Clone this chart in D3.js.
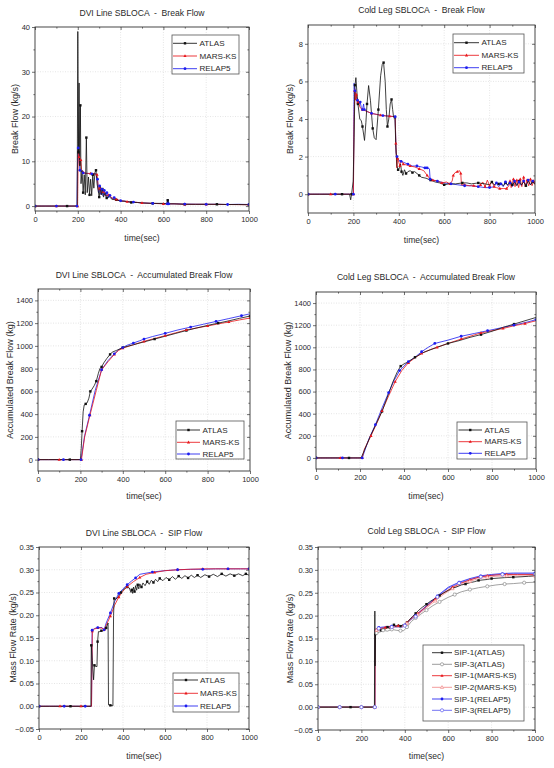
<!DOCTYPE html>
<html><head><meta charset="utf-8">
<script src="https://cdn.jsdelivr.net/npm/d3@7"></script>
<style>body{margin:0;background:#fff}text{font-family:"Liberation Sans",Arial,sans-serif;fill:#2a2a2a;font-weight:400;white-space:pre}</style>
</head><body>
<script>
// ---------- DATA ----------
const timeTicks = [0, 200, 400, 600, 800, 1000];
const timeMinor = [100, 300, 500, 700, 900];

// Panel 1: DVI Line SBLOCA - Break Flow (kg/s)
const dviBreakATLAS = [[0,0],[50,0],[100,0],[150,0],[197,0],[200,39],[203,12],[206,27.5],[209,9],[212,22.5],[215,5],[220,8],[225,3],[230,7],[235,2.5],[240,15.3],[244,3],[250,6.5],[255,2.5],[260,6],[265,2.3],[270,7],[275,4],[280,7.5],[285,8],[290,5],[295,3.5],[300,2],[305,4.5],[310,2.5],[315,3.8],[320,2],[328,3],[335,1.8],[345,2.2],[360,1.5],[380,1.4],[400,1.1],[420,1.1],[450,0.8],[480,0.8],[500,0.7],[550,0.6],[600,0.6],[615,0.5],[620,1.3],[625,0.5],[650,0.5],[700,0.4],[750,0.4],[800,0.4],[850,0.4],[900,0.35],[950,0.35],[1000,0.3]];
const dviBreakMARS = [[0,0],[50,0],[100,0],[150,0],[199,0],[202,12.5],[206,11],[210,9],[214,10.3],[218,8],[225,7.5],[240,7.3],[260,7.3],[280,7.2],[290,7],[297,3.5],[303,4],[310,2.8],[320,3.2],[330,2.3],[345,2.5],[360,1.8],[380,1.5],[400,1.2],[430,1],[460,0.9],[500,0.7],[550,0.6],[600,0.5],[650,0.5],[700,0.4],[750,0.4],[800,0.4],[900,0.35],[1000,0.3]];
const dviBreakRELAP = [[0,0],[60,0],[100,0],[150,0],[196,0],[198,8],[202,13],[206,10],[210,8],[215,7.8],[225,7.4],[245,7.3],[265,7.2],[285,7.2],[292,6],[297,3],[302,4.5],[306,2.6],[312,3.8],[318,2.3],[324,3.5],[330,2.2],[336,3],[342,1.8],[350,2.4],[360,1.6],[370,1.9],[385,1.3],[400,1.2],[430,1],[460,0.9],[500,0.7],[550,0.6],[600,0.55],[618,0.5],[621,1.5],[625,0.5],[660,0.5],[700,0.45],[750,0.4],[800,0.4],[850,0.4],[900,0.35],[950,0.4],[1000,0.35]];

// Panel 2: Cold Leg SBLOCA - Break Flow (kg/s)
const clBreakATLAS = [[0,0],[50,0],[100,0],[150,0],[183,0],[188,-0.3],[192,0],[199,0.7],[203,3],[207,5.8],[211,6.2],[215,5.5],[220,4.8],[228,4.0],[235,3.9],[240,3.6],[249,2.86],[255,3.8],[260,4.8],[267,5.78],[275,5.0],[285,3.5],[292,3.0],[300,2.9],[310,4.5],[320,6.3],[327,6.9],[333,7.0],[340,6],[345,4.5],[350,3.6],[356,4.0],[362,4.8],[368,5.04],[373,4.5],[377,4.1],[383,4.1],[387,2.5],[392,1.5],[397,1.3],[403,1.4],[408,1.6],[412,1.2],[418,1.0],[425,1.3],[432,1.1],[440,1.2],[450,1.25],[460,1.15],[470,1.2],[480,1.1],[490,1.0],[500,0.9],[520,0.85],[540,0.75],[560,0.65],[580,0.6],[600,0.5],[620,0.55],[650,0.55],[680,0.6],[700,0.6],[720,0.55],[750,0.6],[780,0.55],[800,0.5],[810,0.65],[820,0.5],[830,0.6],[840,0.55],[850,0.6],[860,0.45],[870,0.6],[880,0.5],[890,0.7],[900,0.5],[910,0.65],[920,0.45],[930,0.7],[940,0.5],[950,0.65],[960,0.45],[970,0.7],[980,0.5],[990,0.65],[1000,0.55]];
const clBreakMARS = [[0,0],[60,0],[100,0],[170,0],[200,0],[203,4],[206,5.5],[210,5.0],[213,5.3],[217,4.8],[222,4.9],[230,4.6],[240,4.5],[260,4.4],[280,4.3],[300,4.25],[320,4.2],[340,4.17],[360,4.15],[384,4.12],[387,2.7],[391,1.4],[395,1.9],[400,1.7],[405,1.5],[410,1.8],[420,1.6],[435,1.55],[450,1.5],[470,1.45],[490,1.35],[510,1.25],[525,1.0],[535,0.85],[550,0.75],[570,0.7],[590,0.6],[610,0.65],[625,0.55],[635,0.7],[640,1.0],[648,1.15],[658,1.2],[668,1.25],[673,1.1],[676,0.5],[690,0.5],[710,0.45],[730,0.45],[750,0.4],[760,0.5],[770,0.65],[780,0.4],[790,0.75],[800,0.45],[810,0.7],[820,0.4],[830,0.35],[845,0.3],[860,0.3],[875,0.3],[885,0.45],[890,0.7],[895,0.35],[905,0.8],[912,0.4],[920,0.75],[928,0.35],[935,0.8],[942,0.4],[950,0.9],[957,0.4],[965,0.75],[972,0.45],[980,0.8],[987,0.45],[994,0.7],[1000,0.5]];
const clBreakRELAP = [[0,0],[55,0],[120,0],[190,0],[200,0],[203,5.9],[207,5.5],[212,5.2],[218,5.0],[225,4.8],[230,4.9],[235,4.6],[240,4.5],[245,4.8],[248,4.5],[260,4.4],[280,4.3],[300,4.25],[330,4.18],[360,4.15],[384,4.12],[388,2.2],[392,2.0],[400,1.8],[410,1.75],[420,1.7],[440,1.6],[460,1.5],[480,1.5],[500,1.45],[515,1.4],[520,1.45],[525,1.4],[535,1.35],[538,0.8],[550,0.75],[570,0.7],[600,0.6],[630,0.55],[660,0.5],[690,0.45],[720,0.45],[750,0.4],[780,0.35],[800,0.35],[820,0.4],[830,0.6],[840,0.4],[850,0.55],[860,0.4],[870,0.65],[880,0.45],[890,0.6],[900,0.4],[910,0.7],[920,0.5],[930,0.65],[940,0.45],[950,0.7],[960,0.5],[970,0.75],[980,0.5],[990,0.7],[1000,0.6]];

// Panel 3: DVI Line SBLOCA - Accumulated Break Flow (kg)
const dviAccATLAS = [[0,0],[50,0],[100,0],[150,0],[200,0],[204,100],[208,250],[213,420],[218,480],[225,490],[232,500],[240,540],[247,600],[255,620],[265,650],[275,690],[285,760],[292,800],[300,815],[310,850],[325,890],[340,925],[350,945],[370,960],[400,985],[450,1010],[500,1035],[550,1060],[600,1085],[650,1110],[700,1135],[750,1158],[800,1180],[850,1200],[900,1220],[950,1242],[1000,1262]];
const dviAccMARS = [[0,0],[50,0],[100,0],[165,0],[205,0],[220,200],[245,390],[275,610],[300,790],[330,860],[360,925],[380,960],[400,980],[450,1010],[500,1040],[550,1065],[600,1090],[650,1115],[700,1140],[750,1158],[800,1175],[850,1193],[900,1210],[950,1228],[1000,1245]];
const dviAccRELAP = [[0,0],[60,0],[120,0],[180,0],[203,0],[220,210],[243,390],[270,610],[300,790],[330,870],[360,930],[380,965],[400,985],[420,1005],[450,1025],[480,1045],[500,1060],[540,1082],[600,1110],[660,1140],[720,1165],[780,1190],[840,1215],[900,1240],[960,1265],[1000,1282]];

// Panel 4: Cold Leg SBLOCA - Accumulated Break Flow (kg)
const clAccATLAS = [[0,0],[50,0],[100,0],[150,0],[205,0],[250,210],[300,420],[350,690],[370,780],[385,830],[400,850],[420,870],[450,910],[490,955],[550,1000],[600,1035],[650,1060],[700,1090],[750,1115],[800,1145],[850,1180],[900,1210],[950,1240],[1000,1270]];
const clAccMARS = [[0,0],[55,0],[110,0],[170,0],[210,0],[220,80],[250,200],[280,330],[300,425],[330,560],[360,690],[390,790],[420,860],[450,905],[480,945],[520,980],[550,1000],[600,1035],[660,1075],[700,1100],[750,1130],[800,1150],[850,1170],[900,1195],[950,1215],[1000,1240]];
const clAccRELAP = [[0,0],[60,0],[120,0],[190,0],[210,0],[240,170],[270,300],[300,450],[330,590],[355,700],[380,790],[400,830],[420,870],[450,910],[480,960],[510,1000],[540,1035],[600,1065],[660,1100],[720,1125],[780,1150],[850,1180],[900,1200],[960,1228],[1000,1250]];

// Panel 5: DVI Line SBLOCA - SIP Flow (kg/s)
const dviSipATLAS = [[0,0],[50,0],[100,0],[150,0],[200,0],[247,0],[249,0.134],[254,0.1],[260,0.058],[264,0.09],[270,0.088],[276,0.087],[279,0.142],[283,0.164],[290,0.164],[297,0.166],[305,0.166],[313,0.167],[320,0.172],[329,0.183],[331,0.003],[340,0.002],[352,0.001],[355,0.2],[358,0.237],[365,0.235],[376,0.24],[390,0.25],[400,0.255],[408,0.259],[420,0.262],[430,0.26],[438,0.25],[442,0.256],[446,0.248],[450,0.262],[455,0.252],[460,0.265],[465,0.255],[470,0.267],[475,0.258],[480,0.269],[488,0.262],[495,0.271],[505,0.265],[515,0.274],[525,0.268],[535,0.277],[545,0.272],[555,0.279],[565,0.274],[575,0.281],[590,0.276],[605,0.283],[620,0.278],[635,0.285],[650,0.279],[665,0.286],[680,0.281],[695,0.287],[710,0.282],[725,0.288],[740,0.283],[755,0.288],[770,0.283],[790,0.289],[810,0.285],[830,0.290],[850,0.285],[870,0.291],[890,0.286],[910,0.291],[930,0.287],[950,0.291],[970,0.287],[985,0.291],[1000,0.288]];
const dviSipMARS = [[0,0],[50,0],[100,0],[150,0],[200,0],[250,0],[254,0.165],[265,0.17],[280,0.172],[300,0.172],[310,0.168],[320,0.178],[340,0.198],[360,0.222],[380,0.24],[400,0.253],[420,0.263],[450,0.274],[480,0.283],[510,0.29],[550,0.294],[600,0.298],[660,0.3],[720,0.301],[780,0.302],[840,0.302],[900,0.302],[960,0.302],[1000,0.302]];
const dviSipRELAP = [[0,0],[60,0],[120,0],[180,0],[220,0],[250,0],[253,0.167],[265,0.171],[280,0.173],[300,0.173],[310,0.168],[320,0.183],[340,0.205],[360,0.23],[380,0.248],[400,0.258],[420,0.267],[440,0.275],[460,0.282],[480,0.29],[540,0.295],[600,0.298],[660,0.3],[720,0.301],[780,0.301],[840,0.302],[900,0.302],[960,0.302],[1000,0.302]];

// Panel 6: Cold Leg SBLOCA - SIP Flow (kg/s)
const clSip1ATLAS = [[0,0],[50,0],[100,0],[150,0],[200,0],[250,0],[260,0],[262,0.21],[263,0.09],[265,0.16],[270,0.165],[280,0.17],[290,0.168],[300,0.172],[310,0.17],[320,0.175],[330,0.172],[340,0.178],[350,0.18],[360,0.176],[370,0.181],[380,0.177],[390,0.18],[400,0.178],[410,0.185],[420,0.19],[435,0.198],[450,0.205],[465,0.212],[480,0.218],[500,0.225],[520,0.232],[540,0.237],[560,0.244],[580,0.25],[600,0.255],[620,0.26],[640,0.263],[660,0.267],[680,0.269],[700,0.272],[720,0.274],[740,0.277],[760,0.278],[780,0.279],[800,0.281],[830,0.282],[860,0.283],[900,0.284],[940,0.285],[970,0.286],[1000,0.287]];
const clSip3ATLAS = [[0,0],[50,0],[100,0],[150,0],[200,0],[250,0],[261,0],[263,0.16],[270,0.162],[290,0.165],[300,0.168],[320,0.166],[340,0.17],[360,0.168],[380,0.167],[395,0.167],[410,0.175],[430,0.187],[450,0.195],[470,0.202],[500,0.212],[530,0.222],[560,0.23],[600,0.24],[630,0.246],[660,0.252],[700,0.257],[740,0.261],[780,0.264],[820,0.267],[860,0.269],[900,0.27],[950,0.272],[1000,0.273]];
const clSip1MARS = [[0,0],[50,0],[100,0],[150,0],[200,0],[250,0],[262,0],[264,0.165],[270,0.17],[290,0.172],[310,0.174],[340,0.177],[370,0.178],[395,0.178],[410,0.185],[430,0.195],[460,0.205],[500,0.22],[540,0.236],[580,0.25],[620,0.262],[660,0.271],[700,0.278],[740,0.284],[780,0.287],[820,0.289],[870,0.29],[920,0.29],[1000,0.29]];
const clSip2MARS = [[0,0],[50,0],[100,0],[150,0],[200,0],[250,0],[262,0],[264,0.163],[270,0.168],[300,0.17],[340,0.175],[395,0.176],[410,0.183],[430,0.192],[460,0.202],[500,0.217],[540,0.232],[580,0.247],[620,0.259],[660,0.268],[700,0.275],[740,0.281],[780,0.284],[820,0.286],[870,0.287],[920,0.287],[1000,0.287]];
const clSip1RELAP = [[0,0],[50,0],[100,0],[150,0],[200,0],[250,0],[262,0],[264,0.17],[280,0.174],[300,0.175],[340,0.177],[390,0.177],[400,0.18],[420,0.19],[450,0.2],[500,0.222],[550,0.243],[600,0.262],[650,0.273],[700,0.281],[750,0.287],[800,0.29],[850,0.292],[900,0.293],[1000,0.293]];
const clSip3RELAP = [[0,0],[50,0],[100,0],[150,0],[200,0],[250,0],[262,0],[264,0.168],[280,0.172],[300,0.173],[340,0.175],[390,0.175],[400,0.178],[420,0.188],[450,0.198],[500,0.22],[550,0.241],[600,0.26],[650,0.271],[700,0.279],[750,0.285],[800,0.288],[850,0.29],[900,0.291],[1000,0.291]];

const breakTicksDVI = [0, 10, 20, 30, 40];
const breakTicksCL = [0, 2, 4, 6, 8];
const accTicks = [0, 200, 400, 600, 800, 1000, 1200, 1400];
const sipTicks = [-0.05, 0, 0.05, 0.1, 0.15, 0.2, 0.25, 0.3, 0.35];

// ---------- STYLE / LAYOUT ----------
const BLACK = "#111", RED = "#e8161b", BLUE = "#1c1cf0", GREY = "#8a8a8a", PINK = "#f08a8a", LAV = "#5a5af0";
const FONT = "Liberation Sans, Arial, sans-serif";
const std = (a, m, r) => [
  {name: "ATLAS", data: a, color: BLACK, marker: "square", every: 3},
  {name: "MARS-KS", data: m, color: RED, marker: "tri", every: 2},
  {name: "RELAP5", data: r, color: BLUE, marker: "dot", every: 2}
];
const panels = [
  {title: "DVI Line SBLOCA  -  Break Flow", ylabel: "Break Flow (kg/s)",
   frame: [35, 27, 249, 211], yDomain: [-1.1, 40], yTicks: breakTicksDVI, yMinorStep: 5, yFmt: d3.format("d"),
   titleY: 15.5, tickY: 224, xlabY: 240.5, ylabX: 15,
   series: std(dviBreakATLAS, dviBreakMARS, dviBreakRELAP),
   legend: {box: [172, 35, 67, 39], rows: [43.3, 56, 68.7], l0: 173, l1: 197, tx: 199.5}},
  {title: "Cold Leg SBLOCA  -  Break Flow", ylabel: "Break Flow (kg/s)",
   frame: [308, 25, 535, 213], yDomain: [-1, 9], yTicks: breakTicksCL, yMinorStep: 1, yFmt: d3.format("d"),
   titleY: 12.5, tickY: 225.5, xlabY: 242.5, ylabX: 289.5,
   series: std(clBreakATLAS, clBreakMARS, clBreakRELAP),
   legend: {box: [453, 34, 71, 39], rows: [42.7, 55.3, 67.7], l0: 454, l1: 479, tx: 481.5}},
  {title: "DVI Line SBLOCA  -  Accumulated Break Flow", ylabel: "Accumulated Break Flow (kg)",
   frame: [38, 289, 250, 471], yDomain: [-100, 1500], yTicks: accTicks, yMinorStep: 100, yFmt: d3.format("d"),
   titleY: 278, tickY: 483, xlabY: 499, ylabX: 10,
   series: std(dviAccATLAS, dviAccMARS, dviAccRELAP),
   legend: {box: [176, 421, 68, 38], rows: [430, 442.3, 454], l0: 177, l1: 200, tx: 202.5}},
  {title: "Cold Leg SBLOCA  -  Accumulated Break Flow", ylabel: "Accumulated Break Flow (kg)",
   frame: [316, 292, 536, 469], yDomain: [-100, 1500], yTicks: accTicks, yMinorStep: 100, yFmt: d3.format("d"),
   titleY: 280, tickY: 482, xlabY: 498.5, ylabX: 288,
   series: std(clAccATLAS, clAccMARS, clAccRELAP),
   legend: {box: [457, 422, 70, 37], rows: [430, 441.7, 453.3], l0: 458.5, l1: 482, tx: 484.5}},
  {title: "DVI Line SBLOCA  -  SIP Flow", ylabel: "Mass Flow Rate (kg/s)",
   frame: [39, 547, 249, 729], yDomain: [-0.05, 0.35], yTicks: sipTicks, yMinorStep: 0.025, yFmt: d3.format(".2f"),
   titleY: 535.5, tickY: 743, xlabY: 758.5, ylabX: 12.5,
   series: std(dviSipATLAS, dviSipMARS, dviSipRELAP),
   legend: {box: [173, 673, 66, 39], rows: [680, 693.3, 706], l0: 174, l1: 198, tx: 200}},
  {title: "Cold Leg SBLOCA  -  SIP Flow", ylabel: "Mass Flow Rate (kg/s)",
   frame: [318, 547, 535, 730], yDomain: [-0.05, 0.35], yTicks: sipTicks, yMinorStep: 0.025, yFmt: d3.format(".2f"),
   titleY: 534, tickY: 743, xlabY: 758.5, ylabX: 289.5,
   series: [
     {name: "SIP-1(ATLAS)", data: clSip1ATLAS, color: BLACK, marker: "square", every: 3},
     {name: "SIP-3(ATLAS)", data: clSip3ATLAS, color: GREY, marker: "ocircle", every: 2},
     {name: "SIP-1(MARS-KS)", data: clSip1MARS, color: RED, marker: "tri", every: 2},
     {name: "SIP-2(MARS-KS)", data: clSip2MARS, color: PINK, marker: "otri", every: 2},
     {name: "SIP-1(RELAP5)", data: clSip1RELAP, color: BLUE, marker: "dot", every: 2},
     {name: "SIP-3(RELAP5)", data: clSip3RELAP, color: LAV, marker: "ocircle", every: 2}
   ],
   legend: {box: [423, 645, 101, 76], rows: [652.7, 664.3, 675.7, 687.3, 699, 710.3], l0: 432, l1: 452, tx: 454}}
];

const svg = d3.select("body").append("svg").attr("width", 554).attr("height", 768);

function drawMarker(g, type, cx, cy, color) {
  if (type === "square") g.append("rect").attr("x", cx - 1.2).attr("y", cy - 1.2).attr("width", 2.4).attr("height", 2.4).attr("fill", color);
  else if (type === "dot") g.append("circle").attr("cx", cx).attr("cy", cy).attr("r", 1.4).attr("fill", color);
  else if (type === "ocircle") g.append("circle").attr("cx", cx).attr("cy", cy).attr("r", 1.6).attr("fill", "#fff").attr("stroke", color).attr("stroke-width", 0.7);
  else if (type === "tri" || type === "otri") g.append("path")
      .attr("d", `M${cx},${cy - 1.7}L${cx + 1.6},${cy + 1.1}L${cx - 1.6},${cy + 1.1}Z`)
      .attr("fill", type === "tri" ? color : "#fff").attr("stroke", type === "otri" ? color : "none").attr("stroke-width", 0.7);
}

panels.forEach((p, pi) => {
  const [x0, y0, x1, y1] = p.frame;
  const x = d3.scaleLinear().domain([0, 1000]).range([x0, x1]);
  const y = d3.scaleLinear().domain(p.yDomain).range([y1, y0]);
  const g = svg.append("g");
  const clipId = "clip" + pi;
  svg.append("clipPath").attr("id", clipId).append("rect").attr("x", x0).attr("y", y0).attr("width", x1 - x0).attr("height", y1 - y0);

  // grid
  const grid = g.append("g").attr("stroke", "#d4d4d4").attr("stroke-width", 0.6).attr("stroke-dasharray", "1,1.5");
  grid.selectAll(".gx").data(timeTicks.filter(t => t > 0 && t < 1000)).join("line")
    .attr("x1", d => x(d)).attr("x2", d => x(d)).attr("y1", y0).attr("y2", y1);
  grid.selectAll(".gy").data(p.yTicks.filter(t => y(t) > y0 + 0.5 && y(t) < y1 - 0.5)).join("line")
    .attr("y1", d => y(d)).attr("y2", d => y(d)).attr("x1", x0).attr("x2", x1);

  // minor tick values (midpoints between majors)
  const yMinorV = [];
  for (let i = 0; i < p.yTicks.length - 1; i++) yMinorV.push(p.yTicks[i] + p.yMinorStep);

  const axStyle = sel => {
    sel.select(".domain").remove();
    sel.selectAll("line").attr("stroke", "#333").attr("stroke-width", 0.7);
    sel.selectAll("text").attr("font-size", 7.5).attr("fill", "#2a2a2a").attr("font-family", FONT).attr("font-weight", 400);
  };

  g.append("g").attr("transform", `translate(0,${y1})`)
    .call(d3.axisBottom(x).tickValues(timeTicks).tickSize(3).tickPadding(3).tickFormat(d3.format("d"))).call(axStyle);
  g.append("g").attr("transform", `translate(0,${y1})`)
    .call(d3.axisBottom(x).tickValues(timeMinor).tickSize(1.6).tickFormat("")).call(axStyle);
  g.append("g").attr("transform", `translate(0,${y0})`)
    .call(d3.axisTop(x).tickValues(timeTicks).tickSize(-3).tickFormat("")).call(axStyle);
  g.append("g").attr("transform", `translate(0,${y0})`)
    .call(d3.axisTop(x).tickValues(timeMinor).tickSize(-1.6).tickFormat("")).call(axStyle);
  g.append("g").attr("transform", `translate(${x0},0)`)
    .call(d3.axisLeft(y).tickValues(p.yTicks).tickSize(3).tickPadding(2).tickFormat(p.yFmt)).call(axStyle);
  g.append("g").attr("transform", `translate(${x0},0)`)
    .call(d3.axisLeft(y).tickValues(yMinorV).tickSize(1.6).tickFormat("")).call(axStyle);
  g.append("g").attr("transform", `translate(${x1},0)`)
    .call(d3.axisRight(y).tickValues(p.yTicks).tickSize(-3).tickFormat("")).call(axStyle);
  g.append("g").attr("transform", `translate(${x1},0)`)
    .call(d3.axisRight(y).tickValues(yMinorV).tickSize(-1.6).tickFormat("")).call(axStyle);

  // series
  const line = d3.line().x(d => x(d[0])).y(d => y(d[1]));
  const sg = g.append("g").attr("clip-path", `url(#${clipId})`);
  p.series.slice().reverse().forEach(s => {
    sg.append("path").datum(s.data).attr("d", line).attr("fill", "none").attr("stroke", s.color).attr("stroke-width", 0.8).attr("stroke-linejoin", "round");
  });
  p.series.forEach(s => {
    s.data.forEach((d, i) => { if (i % s.every === 0) drawMarker(sg, s.marker, x(d[0]), y(d[1]), s.color); });
  });

  // frame
  g.append("rect").attr("x", x0).attr("y", y0).attr("width", x1 - x0).attr("height", y1 - y0)
    .attr("fill", "none").attr("stroke", "#333").attr("stroke-width", 0.9);

  // titles & labels
  g.append("text").attr("x", (x0 + x1) / 2).attr("y", p.titleY).attr("text-anchor", "middle").attr("font-size", 8.6).text(p.title);
  g.append("text").attr("x", (x0 + x1) / 2).attr("y", p.xlabY).attr("text-anchor", "middle").attr("font-size", 8.6).text("time(sec)");
  g.append("text").attr("transform", `translate(${p.ylabX},${(y0 + y1) / 2}) rotate(-90)`).attr("text-anchor", "middle")
    .attr("dominant-baseline", "central").attr("font-size", 9).text(p.ylabel);

  // legend
  const L = p.legend;
  const lg = g.append("g");
  lg.append("rect").attr("x", L.box[0]).attr("y", L.box[1]).attr("width", L.box[2]).attr("height", L.box[3])
    .attr("fill", "#fff").attr("stroke", "#555").attr("stroke-width", 0.8);
  p.series.forEach((s, i) => {
    const ry = L.rows[i];
    lg.append("line").attr("x1", L.l0).attr("x2", L.l1).attr("y1", ry).attr("y2", ry).attr("stroke", s.color).attr("stroke-width", 0.85);
    drawMarker(lg, s.marker, (L.l0 + L.l1) / 2, ry, s.color);
    lg.append("text").attr("x", L.tx).attr("y", ry).attr("dominant-baseline", "central").attr("font-size", 8.1).text(s.name);
  });
});
</script>
</body></html>
